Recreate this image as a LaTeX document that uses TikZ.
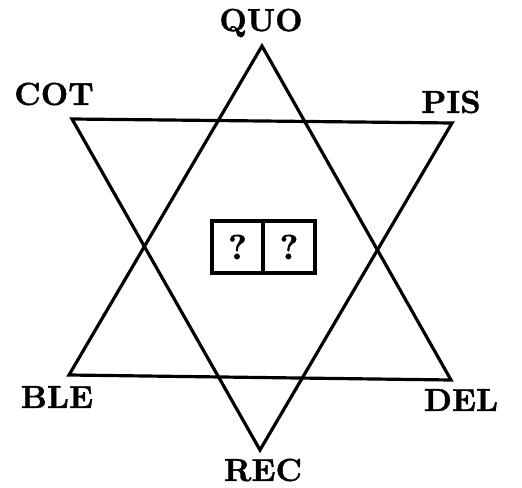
\documentclass[tikz,border=0pt]{standalone}
\usepackage{fontspec}
\newfontfamily\labfont{lmroman10-bold}[Extension=.otf, FakeBold=1.2]
\begin{document}
\begin{tikzpicture}[x=1bp,y=-1bp,
  lab/.style={font=\labfont\fontsize{32}{32}\selectfont, inner sep=0pt},
  qm/.style={font=\labfont\fontsize{35}{35}\selectfont, inner sep=0pt},
  edge/.style={line width=3.2pt, line join=miter},
  boxline/.style={line width=3.4pt}]
\useasboundingbox (0,0) rectangle (522,488);
\coordinate (quo) at (262,46);
\coordinate (cot) at (72,119);
\coordinate (pis) at (452,123);
\coordinate (ble) at (69,375);
\coordinate (del) at (451,380);
\coordinate (rec) at (260,450);
\draw[edge] (quo) -- (ble) -- (del) -- cycle;
\draw[edge] (cot) -- (pis) -- (rec) -- cycle;
\node[lab] (tquo) at (261,23) {QUO};
\node[lab] (tcot) at (54,94) {COT};
\node[lab] (tpis) at (451,102) {PIS};
\node[lab] (tble) at (57,397) {BLE};
\node[lab] (tdel) at (461,400) {DEL};
\node[lab] (trec) at (263,470) {REC};
\node[boxline, draw, minimum width=51bp, minimum height=52bp, inner sep=0pt] (b1) at (237.5,247) {};
\node[boxline, draw, minimum width=52bp, minimum height=52bp, inner sep=0pt] (b2) at (289,247) {};
\node[qm] (q1) at (b1) {?};
\node[qm] (q2) at (b2) {?};
\end{tikzpicture}
\end{document}
